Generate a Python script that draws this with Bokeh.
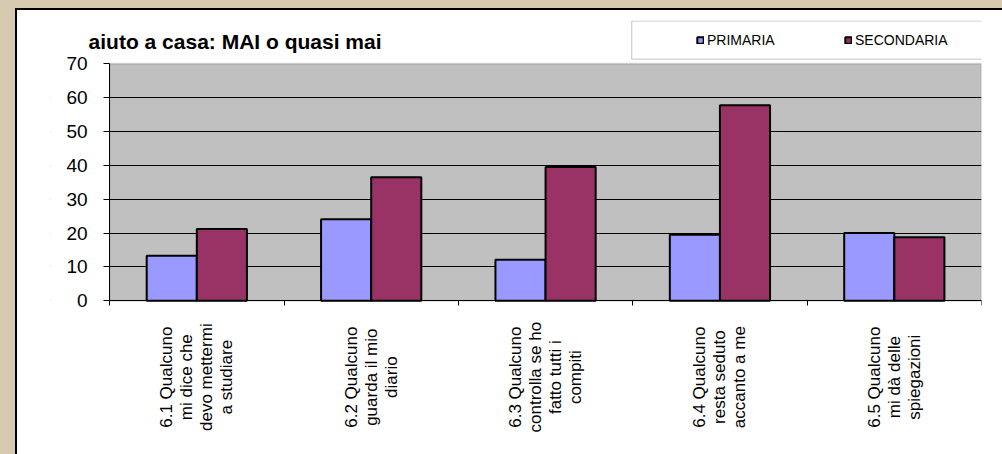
import math
from bokeh.plotting import figure
from bokeh.core.properties import value
from bokeh.models import (Range1d, FixedTicker, ColumnDataSource, Legend, LegendItem, Label, LabelSet,
                          BoxAnnotation, GlobalInlineStyleSheet, CustomJSTickFormatter)
from bokeh.transform import dodge
from bokeh.embed import file_html
from bokeh.resources import INLINE

# ---- data ----
categories = ["6.1", "6.2", "6.3", "6.4", "6.5"]
category_labels = [
    ["6.1 Qualcuno", "mi dice che", "devo mettermi", "a studiare"],
    ["6.2 Qualcuno", "guarda il mio", "diario"],
    ["6.3 Qualcuno", "controlla se ho", "fatto tutti i", "compiti"],
    ["6.4 Qualcuno", "resta seduto", "accanto a me"],
    ["6.5 Qualcuno", "mi dà delle", "spiegazioni"],
]
primaria = [13.3, 24.1, 12.1, 19.5, 20.0]
secondaria = [21.2, 36.5, 39.5, 57.7, 18.8]
series_names = ["PRIMARIA", "SECONDARIA"]
y_ticks = [0, 10, 20, 30, 40, 50, 60, 70]
title_text = "aiuto a casa: MAI o quasi mai"

FONT = "Liberation Sans"
BAR_W = 0.2874
n_cat = len(categories)
Y_MAX = y_ticks[-1]
cat_pos = [i + 0.5 for i in range(n_cat)]        # category centres
cat_edges = list(range(n_cat + 1))               # category boundaries

# ---- page layout (pixels) ----
CANVAS_X0, CANVAS_Y0 = 17, 10
W, H = 985, 444                                  # canvas size
FRAME_LEFT, FRAME_TOP, FRAME_BOTTOM = 50, 20, 445
PLOT_LEFT, PLOT_RIGHT, PLOT_TOP, PLOT_BOTTOM = 109, 979, 63, 299
PX_X = (PLOT_RIGHT - PLOT_LEFT) / n_cat
PX_Y = (PLOT_BOTTOM - PLOT_TOP) / Y_MAX


def px_to_x(px):
    return (px - PLOT_LEFT) / PX_X


def py_to_y(py):
    return (PLOT_BOTTOM - py) / PX_Y


p = figure(x_range=Range1d(px_to_x(FRAME_LEFT), n_cat),
           y_range=Range1d(py_to_y(FRAME_BOTTOM), py_to_y(FRAME_TOP)),
           width=W + 2, height=H + 2, output_backend="svg", toolbar_location=None,
           min_border_left=FRAME_LEFT - CANVAS_X0, min_border_right=CANVAS_X0 + W - PLOT_RIGHT,
           min_border_top=FRAME_TOP - CANVAS_Y0, min_border_bottom=CANVAS_Y0 + H - FRAME_BOTTOM,
           background_fill_color="white", border_fill_color="white",
           outline_line_color=None)

p.styles = {"margin-left": "15px", "margin-top": "8px", "background-color": "white",
            "border-left": "2px solid black", "border-top": "2px solid black"}
p.stylesheets = [GlobalInlineStyleSheet(css="body { background-color: #d6cab0; }")]

# grey plot area
p.add_layout(BoxAnnotation(left=0, right=n_cat, bottom=0, top=Y_MAX,
                           fill_color="#c0c0c0", fill_alpha=1,
                           line_color="#808080", line_width=2, level="image"))

p.xgrid.grid_line_color = None
p.ygrid.ticker = FixedTicker(ticks=y_ticks[:-1])
p.ygrid.grid_line_color = "black"
p.ygrid.grid_line_width = 1
# keep grid lines inside the plot area
p.add_layout(BoxAnnotation(left=px_to_x(FRAME_LEFT - 10), right=0, bottom=-1, top=Y_MAX,
                           fill_color="white", fill_alpha=1, line_color=None, level="underlay"))

p.yaxis.ticker = FixedTicker(ticks=y_ticks)
p.yaxis.fixed_location = 0
p.yaxis.bounds = (0, Y_MAX)
p.yaxis.major_label_text_font = FONT
p.yaxis.major_label_text_font_size = "19px"
p.yaxis.major_label_text_color = "black"
p.yaxis.major_tick_out = 6
p.yaxis.major_tick_in = 0
p.yaxis.minor_tick_line_color = None
p.yaxis.axis_line_color = "black"
p.yaxis.major_tick_line_color = "black"
p.yaxis.major_label_standoff = 16

# category axis: tick marks at the category boundaries
p.xaxis.ticker = FixedTicker(ticks=cat_edges)
p.xaxis.formatter = CustomJSTickFormatter(code="return ''")
p.xaxis.fixed_location = 0
p.xaxis.bounds = (0, n_cat)
p.xaxis.major_tick_out = 5
p.xaxis.major_tick_in = 0
p.xaxis.minor_tick_line_color = None
p.xaxis.major_tick_line_color = "black"
p.xaxis.axis_line_color = "black"

src = ColumnDataSource(dict(pos=cat_pos, primaria=primaria, secondaria=secondaria))
r1 = p.vbar(x=dodge("pos", -BAR_W / 2), top="primaria", width=BAR_W, source=src,
            fill_color="#9999ff", line_color="black", line_width=2)
r2 = p.vbar(x=dodge("pos", BAR_W / 2), top="secondaria", width=BAR_W, source=src,
            fill_color="#993366", line_color="black", line_width=2)

# category labels: rotated, lines centred, one row per line
LINE_STEP = 20
lx, lt, lo = [], [], []
for pos, lines in zip(cat_pos, category_labels):
    n = len(lines)
    for i, line in enumerate(lines):
        lx.append(pos)
        lt.append(line)
        lo.append((i - (n - 1) / 2) * LINE_STEP)
lab_src = ColumnDataSource(dict(x=lx, text=lt, xo=lo))
p.add_layout(LabelSet(x="x", y=py_to_y(375), text="text", x_offset="xo", source=lab_src,
                      angle=math.pi / 2, text_align="center", text_baseline="middle",
                      text_font=value(FONT), text_font_size=value("17px"),
                      text_color=value("black")))

# legend box
p.add_layout(BoxAnnotation(left=px_to_x(630), right=px_to_x(1010),
                           top=py_to_y(20.5), bottom=py_to_y(58.5),
                           fill_color="white", fill_alpha=1, line_color="#404040", line_width=1,
                           level="annotation"))

legend = Legend(items=[LegendItem(label=series_names[0], renderers=[r1]),
                       LegendItem(label=series_names[1], renderers=[r2])],
                orientation="horizontal", location=(696 - FRAME_LEFT, FRAME_BOTTOM - 48),
                padding=9, spacing=37,
                glyph_width=8, glyph_height=8, label_standoff=3, label_width=100, label_height=20,
                label_text_font=FONT, label_text_font_size="14px", label_text_color="black",
                border_line_color=None, background_fill_alpha=0)
p.add_layout(legend)

# chart title
p.add_layout(Label(x=px_to_x(88), y=py_to_y(41), text=title_text,
                   text_font=FONT, text_font_style="bold", text_font_size="21px",
                   text_color="black", text_align="left", text_baseline="alphabetic"))

open("out.html", "w").write(file_html(p, INLINE))
